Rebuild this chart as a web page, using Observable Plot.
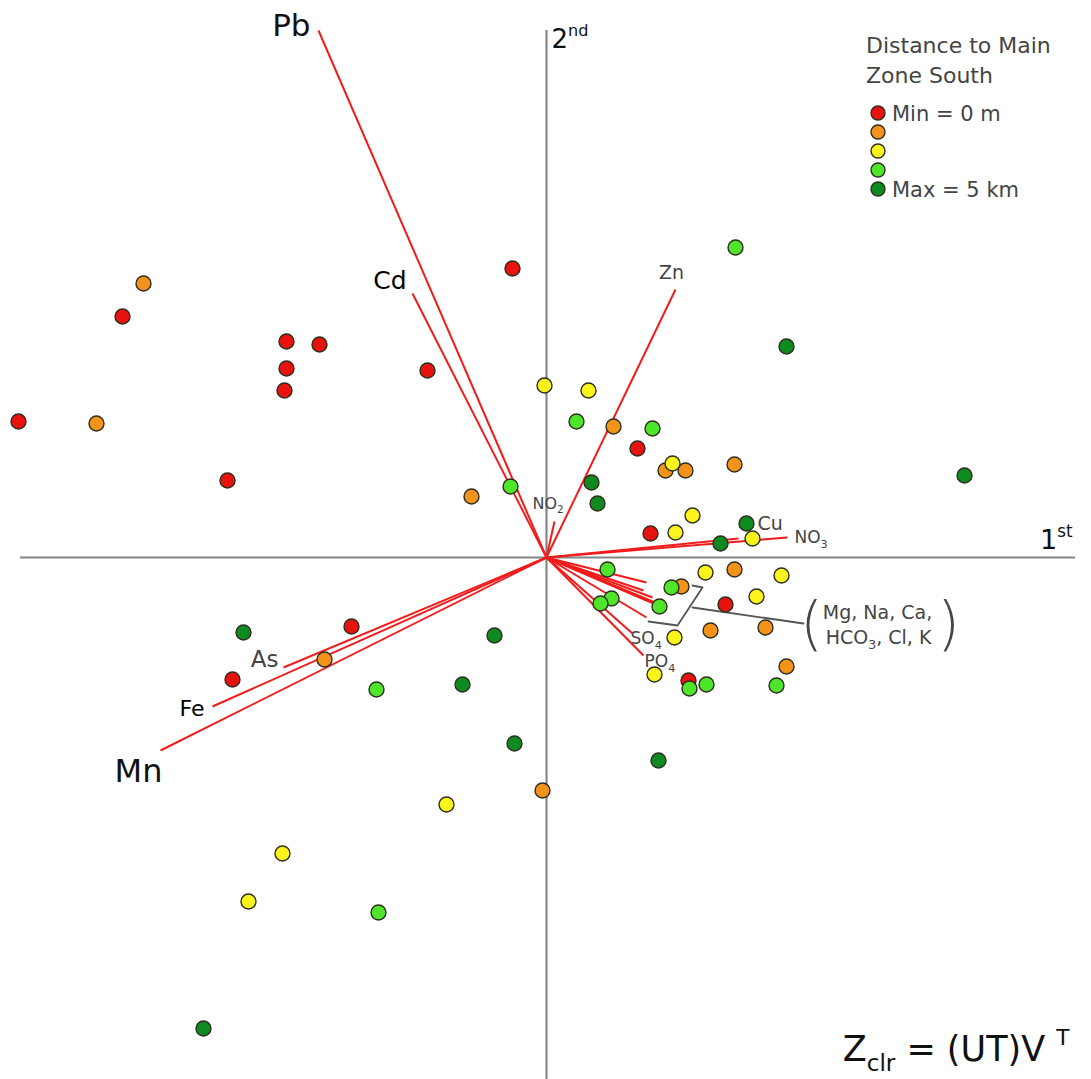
<!DOCTYPE html>
<html><head><meta charset="utf-8">
<script src="https://cdn.jsdelivr.net/npm/d3@7"></script>
<script src="https://cdn.jsdelivr.net/npm/@observablehq/plot@0.6"></script>
<style>
body{margin:0;background:#fff;font-family:"DejaVu Sans",sans-serif;}
#wrap{position:relative;width:1091px;height:1079px;overflow:hidden;}
</style></head><body><div id="wrap"></div>
<script>
// ---- data (biplot units) ----
const scoreX = [-5.28,-4.50,-4.03,-4.24,-2.60,-2.27,-2.60,-2.62,-1.19,-3.19,
  -0.34,-0.75,-0.36,1.89,2.40,4.18,-0.02,0.42,0.30,0.67,
  1.06,0.91,1.19,1.39,1.26,1.88,0.45,0.51,1.46,1.04,
  1.29,2.00,2.06,1.74,0.61,1.59,1.88,2.35,1.35,1.25,
  2.10,0.65,0.54,1.13,1.79,1.64,2.19,1.28,2.40,1.08,
  1.42,1.43,1.60,2.30,1.12,-3.03,-1.95,-2.22,-3.14,-1.70,
  -0.52,-0.84,-0.32,-0.04,-1.00,-2.64,-2.98,-1.68,-3.43];
const scoreY = [1.36,1.34,2.74,2.41,2.16,2.13,1.89,1.67,1.87,0.77,
  2.89,0.61,0.71,3.10,2.11,0.82,1.72,1.67,1.36,1.31,
  1.29,1.09,0.87,0.87,0.94,0.93,0.75,0.54,0.42,0.24,
  0.25,0.34,0.19,0.14,-0.12,-0.15,-0.12,-0.18,-0.29,-0.30,
  -0.39,-0.41,-0.46,-0.49,-0.47,-0.73,-0.70,-0.80,-1.09,-1.17,
  -1.23,-1.31,-1.27,-1.28,-2.03,-0.75,-0.69,-1.02,-1.22,-1.32,
  -0.78,-1.27,-1.86,-2.33,-2.47,-2.96,-3.44,-3.55,-4.71];
// distance class: 0 = nearest (0 m) ... 4 = farthest (5 km)
const scoreClass = [0,1,1,0,0,0,0,0,0,0, 0,1,3,3,4,4,2,2,3,1, 3,0,1,1,2,1,4,4,2,0,
  2,4,2,4,3,2,1,2,1,3, 2,3,3,3,0,1,1,2,1,2, 0,3,3,3,4,4,0,1,0,3, 4,4,4,1,2,2,2,3,4];

const loadingNames = ["Pb","Cd","Zn","NO2","Cu","NO3","Mg","Na","Ca","HCO3","Cl","K","SO4","PO4","As","Fe","Mn"];
const loadingX = [-2.28,-1.34,1.29,0.08,1.92,2.41,1.00,0.97,1.06,1.11,1.14,1.00,0.86,0.97,-2.63,-3.34,-3.86];
const loadingY = [5.27,2.64,2.68,0.36,0.19,0.20,-0.25,-0.33,-0.40,-0.46,-0.49,-0.60,-0.76,-0.98,-1.10,-1.49,-1.93];

const axisX = [-5.26, 5.29];
const axisY = [-5.22, 5.27];
const axisTitles = ["1{^st}", "2{^nd}"];

const bracketX = [1.46,1.56,1.31,1.02];
const bracketY = [-0.28,-0.30,-0.68,-0.64];
const leaderX = [1.46,2.57];
const leaderY = [-0.50,-0.66];
const groupLines = ["Mg, Na, Ca,", "HCO{_3}, Cl, K"];

const legendTitle = ["Distance to Main", "Zone South"];
const legendLabels = ["Min = 0 m", "", "", "", "Max = 5 km"];
const formula = "Z{_clr} = (UT)V {^T}";

// ---- styles ----
const classColors = ["#e8120f","#f4931a","#fbf41c","#4fe52a","#0f8a20"];
const red = "#f01c1c";
const dark = "#111";
const grey = "#444";
const labelStyle = {
  Pb:  {text:"Pb", size:31, color:dark, anchor:"end", dx:-8, dy:-4},
  Cd:  {text:"Cd", size:25, color:"#000", anchor:"end", dx:-6, dy:-13},
  Zn:  {text:"Zn", size:19, color:grey, anchor:"middle", dx:-4, dy:-17},
  NO2: {text:"NO{_2}", size:16, color:grey, anchor:"start", dx:-22, dy:-18},
  Cu:  {text:"Cu", size:19, color:grey, anchor:"start", dx:19, dy:-15},
  NO3: {text:"NO{_3}", size:17, color:grey, anchor:"start", dx:7, dy:0},
  SO4: {text:"SO{_4}", size:17, color:grey, anchor:"start", dx:-2, dy:5},
  PO4: {text:"PO{_4}", size:17, color:grey, anchor:"start", dx:1, dy:6},
  As:  {text:"As", size:23, color:grey, anchor:"end", dx:-5, dy:-8},
  Fe:  {text:"Fe", size:22, color:"#000", anchor:"end", dx:-8, dy:2},
  Mn:  {text:"Mn", size:32, color:dark, anchor:"end", dx:2, dy:21}
};

// ---- build ----
const scores = scoreX.map((x,i)=>({x, y:scoreY[i], cls:scoreClass[i]}));
const loadings = loadingNames.map((name,i)=>({name, x:loadingX[i], y:loadingY[i]}));
const bracket = bracketX.map((x,i)=>({x, y:bracketY[i]}));
const leader = leaderX.map((x,i)=>({x, y:leaderY[i]}));
const leaderEnd = [leader[leader.length-1]];

const labelMarks = Object.entries(labelStyle).map(([name,s]) =>
  Plot.text(loadings.filter(d=>d.name===name), {
    x:"x", y:"y", text:()=>s.text, dx:s.dx, dy:s.dy, textAnchor:s.anchor,
    lineAnchor:"middle", fontSize:s.size, fill:s.color, fontWeight:s.weight||"normal"
  }));

const plot = Plot.plot({
  width:1091, height:1079, margin:0,
  x:{domain:[-5.46,5.45], axis:null},
  y:{domain:[-5.22,5.57], axis:null},
  color:{type:"ordinal", domain:[0,1,2,3,4], range:classColors},
  style:{fontFamily:'"DejaVu Sans", sans-serif', background:"#fff"},
  marks:[
    Plot.ruleY([0], {x1:()=>axisX[0], x2:()=>axisX[1], stroke:"#858585", strokeWidth:2.2}),
    Plot.ruleX([0], {y1:()=>axisY[0], y2:()=>axisY[1], stroke:"#858585", strokeWidth:2.2}),
    Plot.link(loadings, {x1:()=>0, y1:()=>0, x2:"x", y2:"y", stroke:red, strokeWidth:2}),
    Plot.line(bracket, {x:"x", y:"y", stroke:"#555", strokeWidth:1.8}),
    Plot.line(leader, {x:"x", y:"y", stroke:"#555", strokeWidth:1.8}),
    Plot.dot(scores, {x:"x", y:"y", r:7.5, fill:"cls", stroke:"#2e2e1e", strokeWidth:1.4}),
    ...labelMarks,
    // group label with parentheses
    Plot.text(leaderEnd, {x:"x", y:"y", text:()=>groupLines[0], dx:74, dy:-11, fontSize:19, fill:grey, lineAnchor:"middle"}),
    Plot.text(leaderEnd, {x:"x", y:"y", text:()=>groupLines[1], dx:75, dy:14, fontSize:19, fill:grey, lineAnchor:"middle"}),
    Plot.text(leaderEnd, {x:"x", y:"y", text:()=>"(", dx:8, dy:2, fontSize:58, fill:grey, lineAnchor:"middle", fontWeight:"300"}),
    Plot.text(leaderEnd, {x:"x", y:"y", text:()=>")", dx:145, dy:2, fontSize:58, fill:grey, lineAnchor:"middle", fontWeight:"300"}),
    // axis titles
    Plot.text([axisX[1]], {x:d=>d, y:()=>0, text:()=>axisTitles[0], textAnchor:"end", dx:-3, dy:-17, fontSize:27, fill:dark, lineAnchor:"middle"}),
    Plot.text([axisY[1]], {x:()=>0, y:d=>d, text:()=>axisTitles[1], textAnchor:"start", dx:5, dy:9, fontSize:26, fill:dark, lineAnchor:"middle"}),
    // formula
    Plot.text([formula], {frameAnchor:"bottom-right", text:d=>d, textAnchor:"end", lineAnchor:"middle", dx:-22, dy:-30, fontSize:35, fill:dark})
  ]
});

const wrap = document.getElementById("wrap");
wrap.appendChild(plot);

// rich text: {_sub} and {^sup}
function rich(svg){
  svg.querySelectorAll("text").forEach(t=>{
    const s = t.textContent;
    if (!s.includes("{")) return;
    const fs = parseFloat(getComputedStyle(t).fontSize);
    t.textContent = "";
    const re = /\{([_^])([^}]*)\}|([^{]+)/g;
    let m, pending = 0;
    while ((m = re.exec(s))) {
      const ts = document.createElementNS("http://www.w3.org/2000/svg","tspan");
      if (m[3] !== undefined) {
        ts.textContent = m[3];
        if (pending) { ts.setAttribute("dy", pending); pending = 0; }
      } else {
        const sub = m[1] === "_";
        const shift = sub ? 0.28*fs : -0.45*fs;
        ts.textContent = m[2];
        ts.setAttribute("font-size", fs*(sub ? 0.66 : 0.62));
        ts.setAttribute("dy", shift + pending);
        pending = -shift;
      }
      t.appendChild(ts);
    }
  });
}
rich(plot);

// legend (upper right)
const lg = d3.select(wrap).append("svg")
  .attr("width",231).attr("height",200)
  .style("position","absolute").style("left","860px").style("top","20px")
  .style("font-family",'"DejaVu Sans", sans-serif');
lg.selectAll("text.title").data(legendTitle).join("text").attr("class","title")
  .attr("x",6).attr("y",(d,i)=>33+i*30).attr("font-size",22).attr("fill",grey).text(d=>d);
const rows = lg.selectAll("g.row").data(legendLabels).join("g").attr("class","row")
  .attr("transform",(d,i)=>`translate(18,${93+i*19})`);
rows.append("circle").attr("r",7).attr("fill",(d,i)=>classColors[i]).attr("stroke","#2e2e1e").attr("stroke-width",1.4);
rows.append("text").attr("x",14).attr("dy","0.36em").attr("font-size",21).attr("fill",grey).text(d=>d);
</script></body></html>
